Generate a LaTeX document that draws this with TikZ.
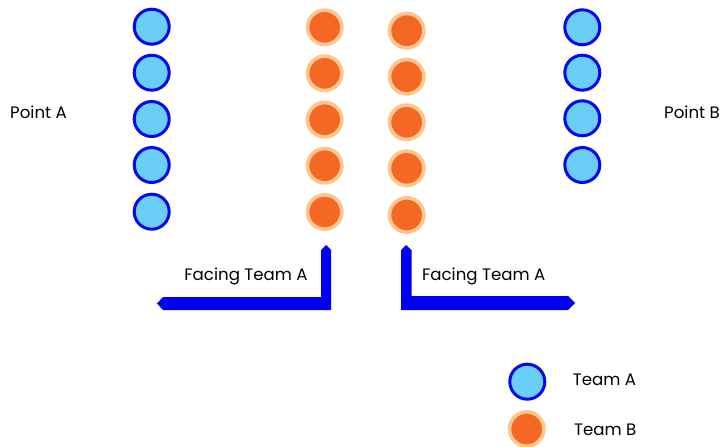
\documentclass[tikz,border=0pt]{standalone}
\usepackage{fontspec}
\setmainfont{Poppins}
\usetikzlibrary{positioning}
\definecolor{bluerim}{RGB}{8,8,240}
\definecolor{skyfill}{RGB}{106,206,246}
\definecolor{orangefill}{RGB}{242,104,36}
\definecolor{peachrim}{RGB}{253,198,140}
\definecolor{barblue}{RGB}{0,0,245}

\begin{document}
\begin{tikzpicture}[x=1pt,y=-1pt,
    teamA/.style={circle,fill=skyfill,draw=bluerim,line width=3pt,minimum size=35pt,inner sep=0pt},
    teamB/.style={circle,fill=orangefill,draw=peachrim,line width=3.6pt,minimum size=34.4pt,inner sep=0pt},
    lbl/.style={font=\fontsize{16.6}{19}\selectfont,inner sep=0pt}]
        \useasboundingbox (0,0) rectangle (723,447);
        % team A, left column
        \foreach \y [count=\i] in {26.7,72.7,119,165,211.7}
            \node[teamA] (la\i) at (151.7,\y) {};
        % team B, two middle columns
        \foreach \y [count=\i] in {27.3,73.3,119.7,165.7,212}
            \node[teamB] (lb\i) at (324.7,\y) {};
        \foreach \y [count=\i] in {30.7,76.7,122.3,168.3,215}
            \node[teamB] (rb\i) at (406.7,\y) {};
        % team A, right column
        \foreach \y [count=\i] in {27.3,72.7,118.3,165}
            \node[teamA] (ra\i) at (582.3,\y) {};
        \node[lbl,anchor=west] (pa) at (10,112) {Point A};
        \node[lbl,anchor=west] (pb) at (664,112) {Point B};
        % facing arrows
        \fill[barblue] (326,245) -- (331,250) -- (331,310) -- (163,310) -- (157,303.5)
            -- (163,297) -- (321,297) -- (321,250) -- cycle;
        \fill[barblue] (406,245) -- (411.5,250) -- (411.5,296) -- (568,296) -- (575,303)
            -- (568,310) -- (401,310) -- (401,250) -- cycle;
        \node[lbl] (fl) at (246,276) {Facing Team A};
        \node[lbl] (fr) at (483.7,276) {Facing Team A};
        % legend
        \node[teamA] (keya) at (527.3,381.7) {};
        \node[teamB] (keyb) at (526.7,429) {};
        \node[lbl,anchor=west] (ta) at (572.7,380) {Team A};
        \node[lbl,anchor=west] (tb) at (574,430) {Team B};
      \end{tikzpicture}
\end{document}
